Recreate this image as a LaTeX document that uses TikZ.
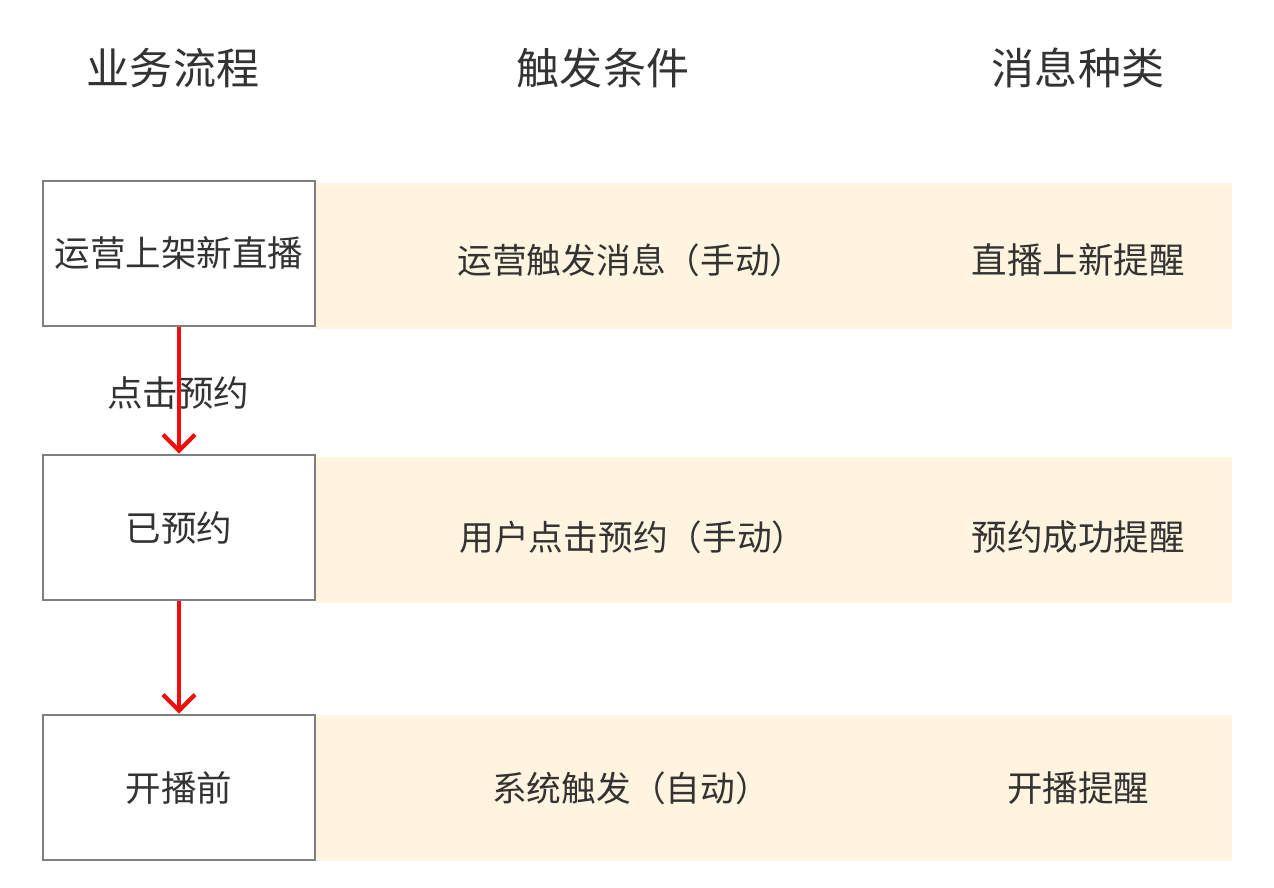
\documentclass[tikz,border=0pt]{standalone}
\usepackage{fontspec}
\newfontfamily\cjk{Noto Sans CJK SC}
\usetikzlibrary{arrows.meta,positioning}
\definecolor{bandfill}{HTML}{FFF4DF}
\definecolor{boxline}{HTML}{7F7F7F}
\definecolor{txt}{HTML}{333333}
\definecolor{flowred}{HTML}{F20D0D}
\begin{document}
\begin{tikzpicture}[
  head/.style={font=\cjk\fontsize{24.5}{28}\selectfont, text=txt},
  band/.style={rectangle, fill=bandfill, minimum width=18.32cm, minimum height=2.92cm, inner sep=0pt},
  stage/.style={rectangle, draw=boxline, line width=1.5pt, fill=white, minimum width=5.44cm, minimum height=2.9cm, inner sep=0pt, font=\cjk\fontsize{20.2}{24}\selectfont, text=txt},
  cell/.style={font=\cjk\fontsize{20.2}{24}\selectfont, text=txt},
  flow/.style={-{Straight Barb[length=0.32cm, width=0.64cm, line width=2.4pt]}, flowred, line width=2.3pt}
]
\useasboundingbox (0,0) rectangle (25.48,-17.76);

% column headers
\node[head] (hflow) at (3.46,-1.36) {业务流程};
\node[head] (hcond) at (12.06,-1.36) {触发条件};
\node[head] (hkind) at (21.56,-1.36) {消息种类};

% rows
\node[band] (band1) at (15.48,-5.12) {};
\node[band] (band2) at (15.48,-10.6) {};
\node[band] (band3) at (15.48,-15.76) {};

\node[stage] (online) at (3.58,-5.07) {\raisebox{-0.08cm}{运营上架新直播}};
\node[stage] (booked) at (3.58,-10.55) {已预约};
\node[stage] (prelive) at (3.58,-15.75) {开播前};

\node[cell, font=\cjk\fontsize{19.75}{24}\selectfont] (cond1) at (12.62,-5.2) {运营触发消息（手动）};
\node[cell, font=\cjk\fontsize{19.75}{24}\selectfont] (cond2) at (12.66,-10.74) {用户点击预约（手动）};
\node[cell, font=\cjk\fontsize{19.75}{24}\selectfont] (cond3) at (12.62,-15.76) {系统触发（自动）};

\node[cell] (kind1) at (21.56,-5.2) {直播上新提醒};
\node[cell] (kind2) at (21.56,-10.74) {预约成功提醒};
\node[cell] (kind3) at (21.56,-15.76) {开播提醒};

% flow
\node[cell] (click) at (3.56,-7.86) {点击预约};
\draw[flow] (online) -- (booked);
\draw[flow] (booked) -- (prelive);
\end{tikzpicture}
\end{document}
